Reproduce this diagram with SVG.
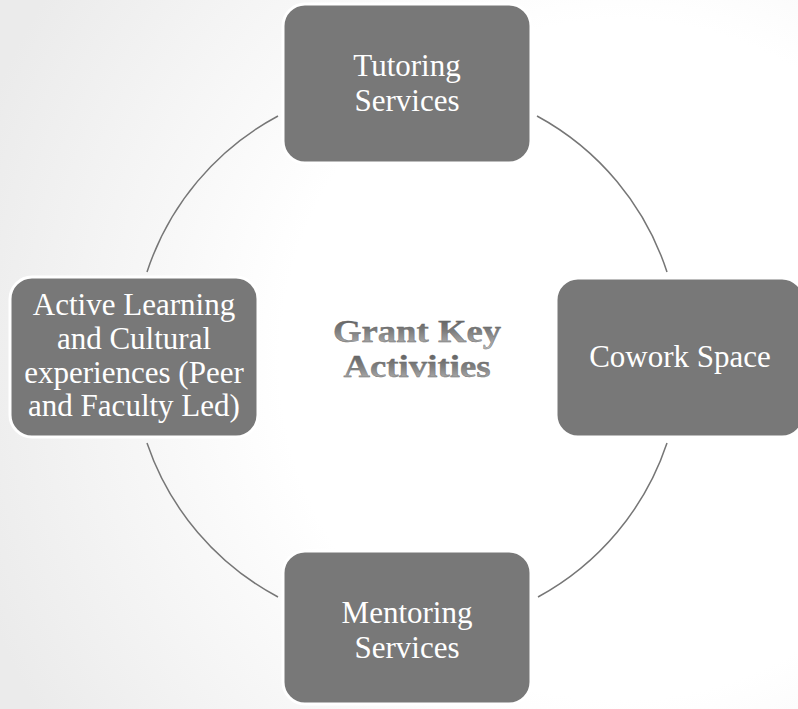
<svg xmlns="http://www.w3.org/2000/svg" width="798" height="709" viewBox="0 0 798 709">
<defs>
<radialGradient id="bg" gradientUnits="userSpaceOnUse" cx="620" cy="360" r="680">
<stop offset="0" stop-color="#ffffff"/>
<stop offset="0.5" stop-color="#ffffff"/>
<stop offset="1" stop-color="#ebebeb"/>
</radialGradient>
<linearGradient id="tg" x1="0" y1="0" x2="0" y2="1">
<stop offset="0" stop-color="#555555"/>
<stop offset="0.5" stop-color="#7d7d7d"/>
<stop offset="1" stop-color="#bdbdbd"/>
</linearGradient>
<style>
.box{fill:#787878;stroke:#ffffff;stroke-width:3}
.lbl{font-family:"Liberation Serif","Times New Roman",serif;font-size:31px;fill:#ffffff;text-anchor:middle}
.title{font-family:"Liberation Serif","Times New Roman",serif;font-size:32px;font-weight:bold;fill:url(#tg);stroke:#6a6a6a;stroke-width:0.4;text-anchor:middle}
.conn{fill:none;stroke:#767676;stroke-width:1.5}
</style>
</defs>
<rect x="0" y="0" width="798" height="709" fill="url(#bg)"/>
<g id="connectors">
<path class="conn" d="M278,116 A274,274 0 0 0 147,272"/>
<path class="conn" d="M537,116 A274,274 0 0 1 667,272"/>
<path class="conn" d="M147,443 A274,274 0 0 0 278,597"/>
<path class="conn" d="M667,443 A274,274 0 0 1 538,597"/>
</g>
<g id="center">
<text class="title" x="417" y="342" textLength="168" lengthAdjust="spacingAndGlyphs">Grant Key</text>
<text class="title" x="417" y="377" textLength="147" lengthAdjust="spacingAndGlyphs">Activities</text>
</g>
<g id="tutoring">
<rect class="box" x="283" y="4" width="248" height="159" rx="22"/>
<text class="lbl" x="407" y="76">Tutoring</text>
<text class="lbl" x="407" y="111">Services</text>
</g>
<g id="cowork">
<rect class="box" x="556" y="278" width="248" height="159" rx="22"/>
<text class="lbl" x="680" y="367">Cowork Space</text>
</g>
<g id="mentoring">
<rect class="box" x="283" y="551" width="248" height="153" rx="22"/>
<text class="lbl" x="407" y="623">Mentoring</text>
<text class="lbl" x="407" y="658">Services</text>
</g>
<g id="active">
<rect class="box" x="10" y="277" width="248" height="160" rx="22"/>
<text class="lbl" x="134" y="315">Active Learning</text>
<text class="lbl" x="134" y="349">and Cultural</text>
<text class="lbl" x="134" y="383">experiences (Peer</text>
<text class="lbl" x="134" y="416">and Faculty Led)</text>
</g>
</svg>
